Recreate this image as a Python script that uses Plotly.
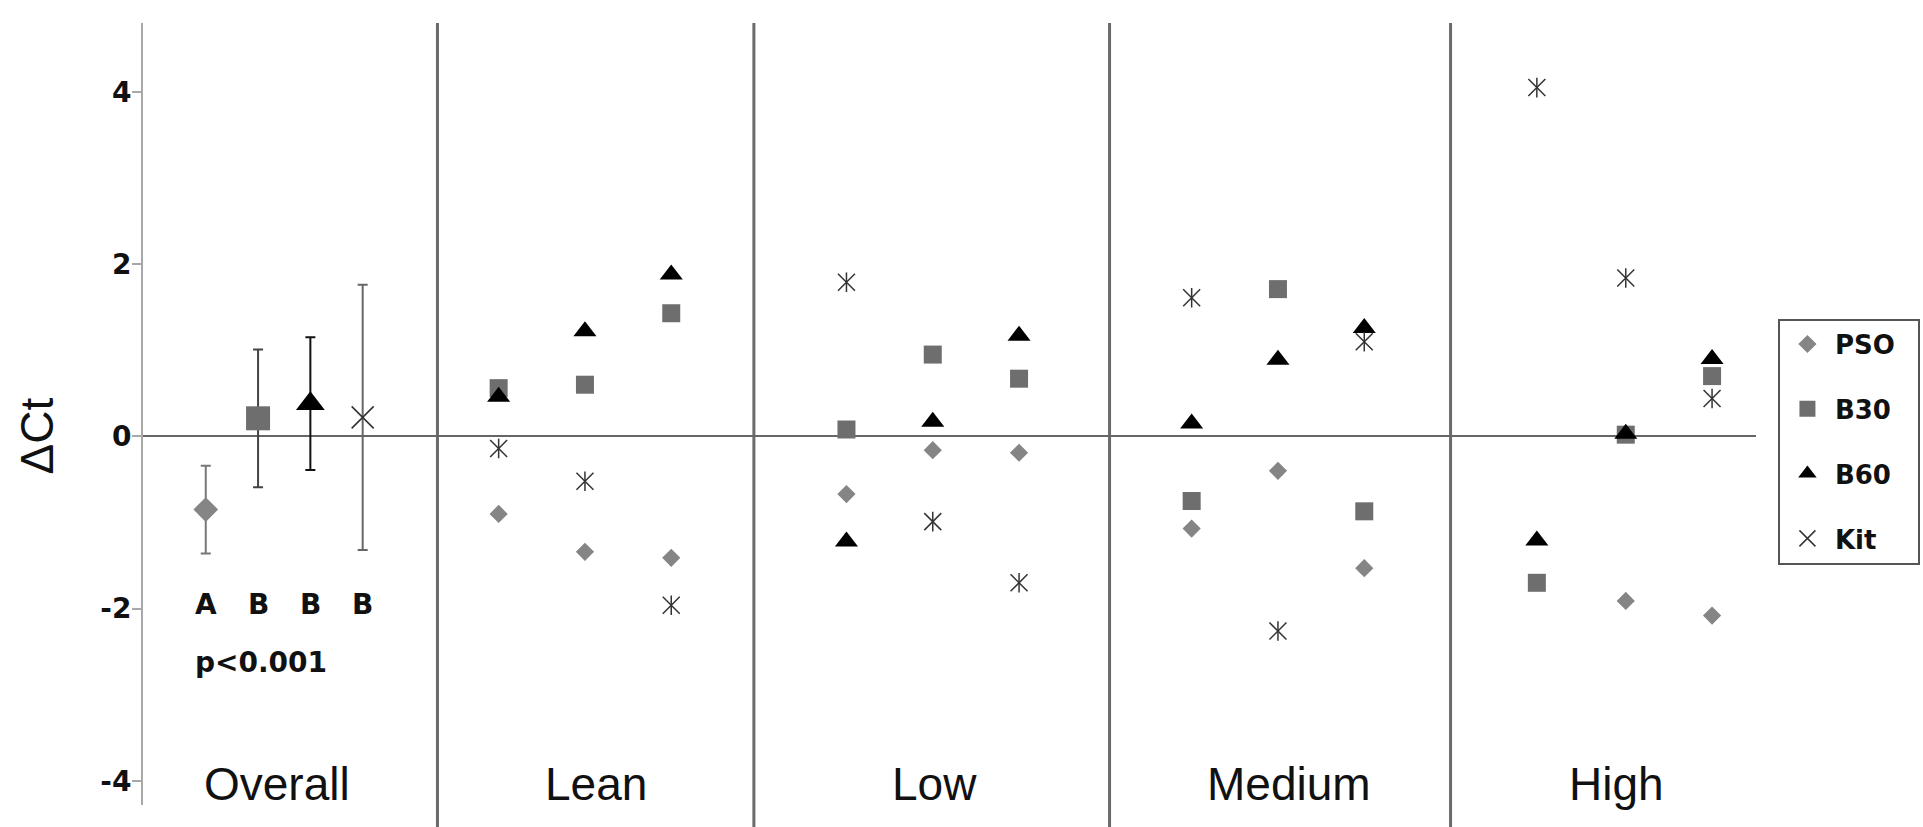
import plotly.graph_objects as go

# ---------------- data ----------------
series = ["PSO", "B30", "B60", "Kit"]

overall_x = [1.2, 2.2, 3.2, 4.2]
overall_mean = [-0.85, 0.21, 0.38, 0.22]
overall_sd = [0.51, 0.80, 0.77, 1.54]
overall_letters = ["A", "B", "B", "B"]
p_text = "p<0.001"

group_names = ["Overall", "Lean", "Low", "Medium", "High"]
group_label_x = [2.57, 8.67, 15.13, 21.92, 28.18]
separators_x = [5.63, 11.68, 18.48, 25.0]

panel_x = [6.8, 8.45, 10.1, 13.45, 15.1, 16.75, 20.05, 21.7, 23.35, 26.65, 28.35, 30.0]
pso = [-0.90, -1.34, -1.41, -0.67, -0.16, -0.19, -1.07, -0.40, -1.53, None, -1.91, -2.08]
b30 = [0.56, 0.60, 1.43, 0.08, 0.95, 0.67, -0.75, 1.71, -0.87, -1.70, 0.02, 0.70]
b60 = [0.46, 1.22, 1.88, -1.22, 0.17, 1.17, 0.15, 0.89, 1.26, -1.21, 0.03, 0.90]
kit = [-0.14, -0.52, -1.96, 1.79, -0.99, -1.70, 1.61, -2.26, 1.10, 4.05, 1.84, 0.44]
panel_values = [pso, b30, b60, kit]

y_ticks = [-4, -2, 0, 2, 4]
x_range = [0, 30.84]
y_range = [-4.28, 4.80]

# ---------------- styles ----------------
colors = ["#858585", "#6e6e6e", "#000000", "#333333"]
panel_symbols = ["diamond", "square", "triangle-up", "x-thin-open"]
panel_sizes = [14, 18, 20, 17]
overall_sizes = [19, 24, 25, 22]
err_colors = ["#777777", "#444444", "#111111", "#666666"]
BOLD = "DejaVu Sans"
REG = "Liberation Sans, Arial"
PAD = "\u00a0\u00a0"

fig = go.Figure()

# overall means with error bars
for i, name in enumerate(series):
    fig.add_trace(go.Scatter(
        x=[overall_x[i]], y=[overall_mean[i]], mode="markers",
        marker=dict(symbol=panel_symbols[i], size=overall_sizes[i], color=colors[i],
                    line=dict(color="#555555" if i == 3 else colors[i], width=1.6 if i == 3 else 0)),
        error_y=dict(type="data", array=[overall_sd[i]], color=err_colors[i],
                     thickness=2, width=5),
        showlegend=False, legendgroup=name, hoverinfo="skip"))

# panel points
for i, name in enumerate(series):
    fig.add_trace(go.Scatter(
        x=panel_x, y=panel_values[i], mode="markers", name=name + PAD, legendgroup=name,
        marker=dict(symbol=panel_symbols[i], size=panel_sizes[i], color=colors[i],
                    line=dict(color=colors[i], width=1.5 if i == 3 else 0))))
    if name == "Kit":
        fig.add_trace(go.Scatter(
            x=panel_x, y=panel_values[i], mode="markers", legendgroup=name, showlegend=False,
            marker=dict(symbol="line-ns-open", size=14, color=colors[i],
                        line=dict(color=colors[i], width=1.5))))

# separators
for sx in separators_x:
    fig.add_shape(type="line", xref="x", yref="paper", x0=sx, x1=sx, y0=-0.035, y1=1,
                  line=dict(color="#6a6a6a", width=3), layer="below")

annotations = []
for gx, gn in zip(group_label_x, group_names):
    annotations.append(dict(x=gx, y=-4.04, xref="x", yref="y", text=gn, showarrow=False,
                            font=dict(family=REG, size=46, color="#111111")))
for ox, lt in zip(overall_x, overall_letters):
    annotations.append(dict(x=ox, y=-1.95, xref="x", yref="y", text=lt,
                            showarrow=False,
                            font=dict(family=BOLD, size=28, color="#111111", weight="bold")))
annotations.append(dict(x=2.25, y=-2.62, xref="x", yref="y", text=p_text,
                        showarrow=False,
                        font=dict(family=BOLD, size=28, color="#111111", weight="bold")))
annotations.append(dict(x=-0.083, y=0, xref="paper", yref="y", text="ΔCt", textangle=-90,
                        showarrow=False, font=dict(family=REG, size=46, color="#111111")))

fig.update_layout(
    width=1923, height=827,
    margin=dict(l=143, r=167, t=23, b=22, autoexpand=False),
    paper_bgcolor="white", plot_bgcolor="white",
    showlegend=True,
    legend=dict(x=1.0136, xanchor="left", y=0.622, yanchor="top",
                bordercolor="#555555", borderwidth=2, bgcolor="white",
                font=dict(family=BOLD, size=26, color="#111111", weight="bold"),
                traceorder="grouped", tracegroupgap=28, itemsizing="trace",
                itemwidth=45),
    annotations=annotations,
    xaxis=dict(range=x_range, showgrid=False, zeroline=False, showticklabels=False,
               showline=False, ticks=""),
    yaxis=dict(range=y_range, tickvals=y_ticks, ticktext=[str(t) for t in y_ticks],
               tickfont=dict(family=BOLD, size=28, color="#111111", weight="bold"),
               showgrid=False, zeroline=True, zerolinecolor="#666666", zerolinewidth=1.6,
               showline=True, linecolor="#a8a8a8", linewidth=2,
               ticks="outside", ticklen=9, tickcolor="#a8a8a8", tickwidth=2,
               ticklabelstandoff=-5),
)

fig.write_html("out.html", config={"displayModeBar": False},
               post_script="document.body.style.margin='0';document.body.style.overflow='hidden';")
